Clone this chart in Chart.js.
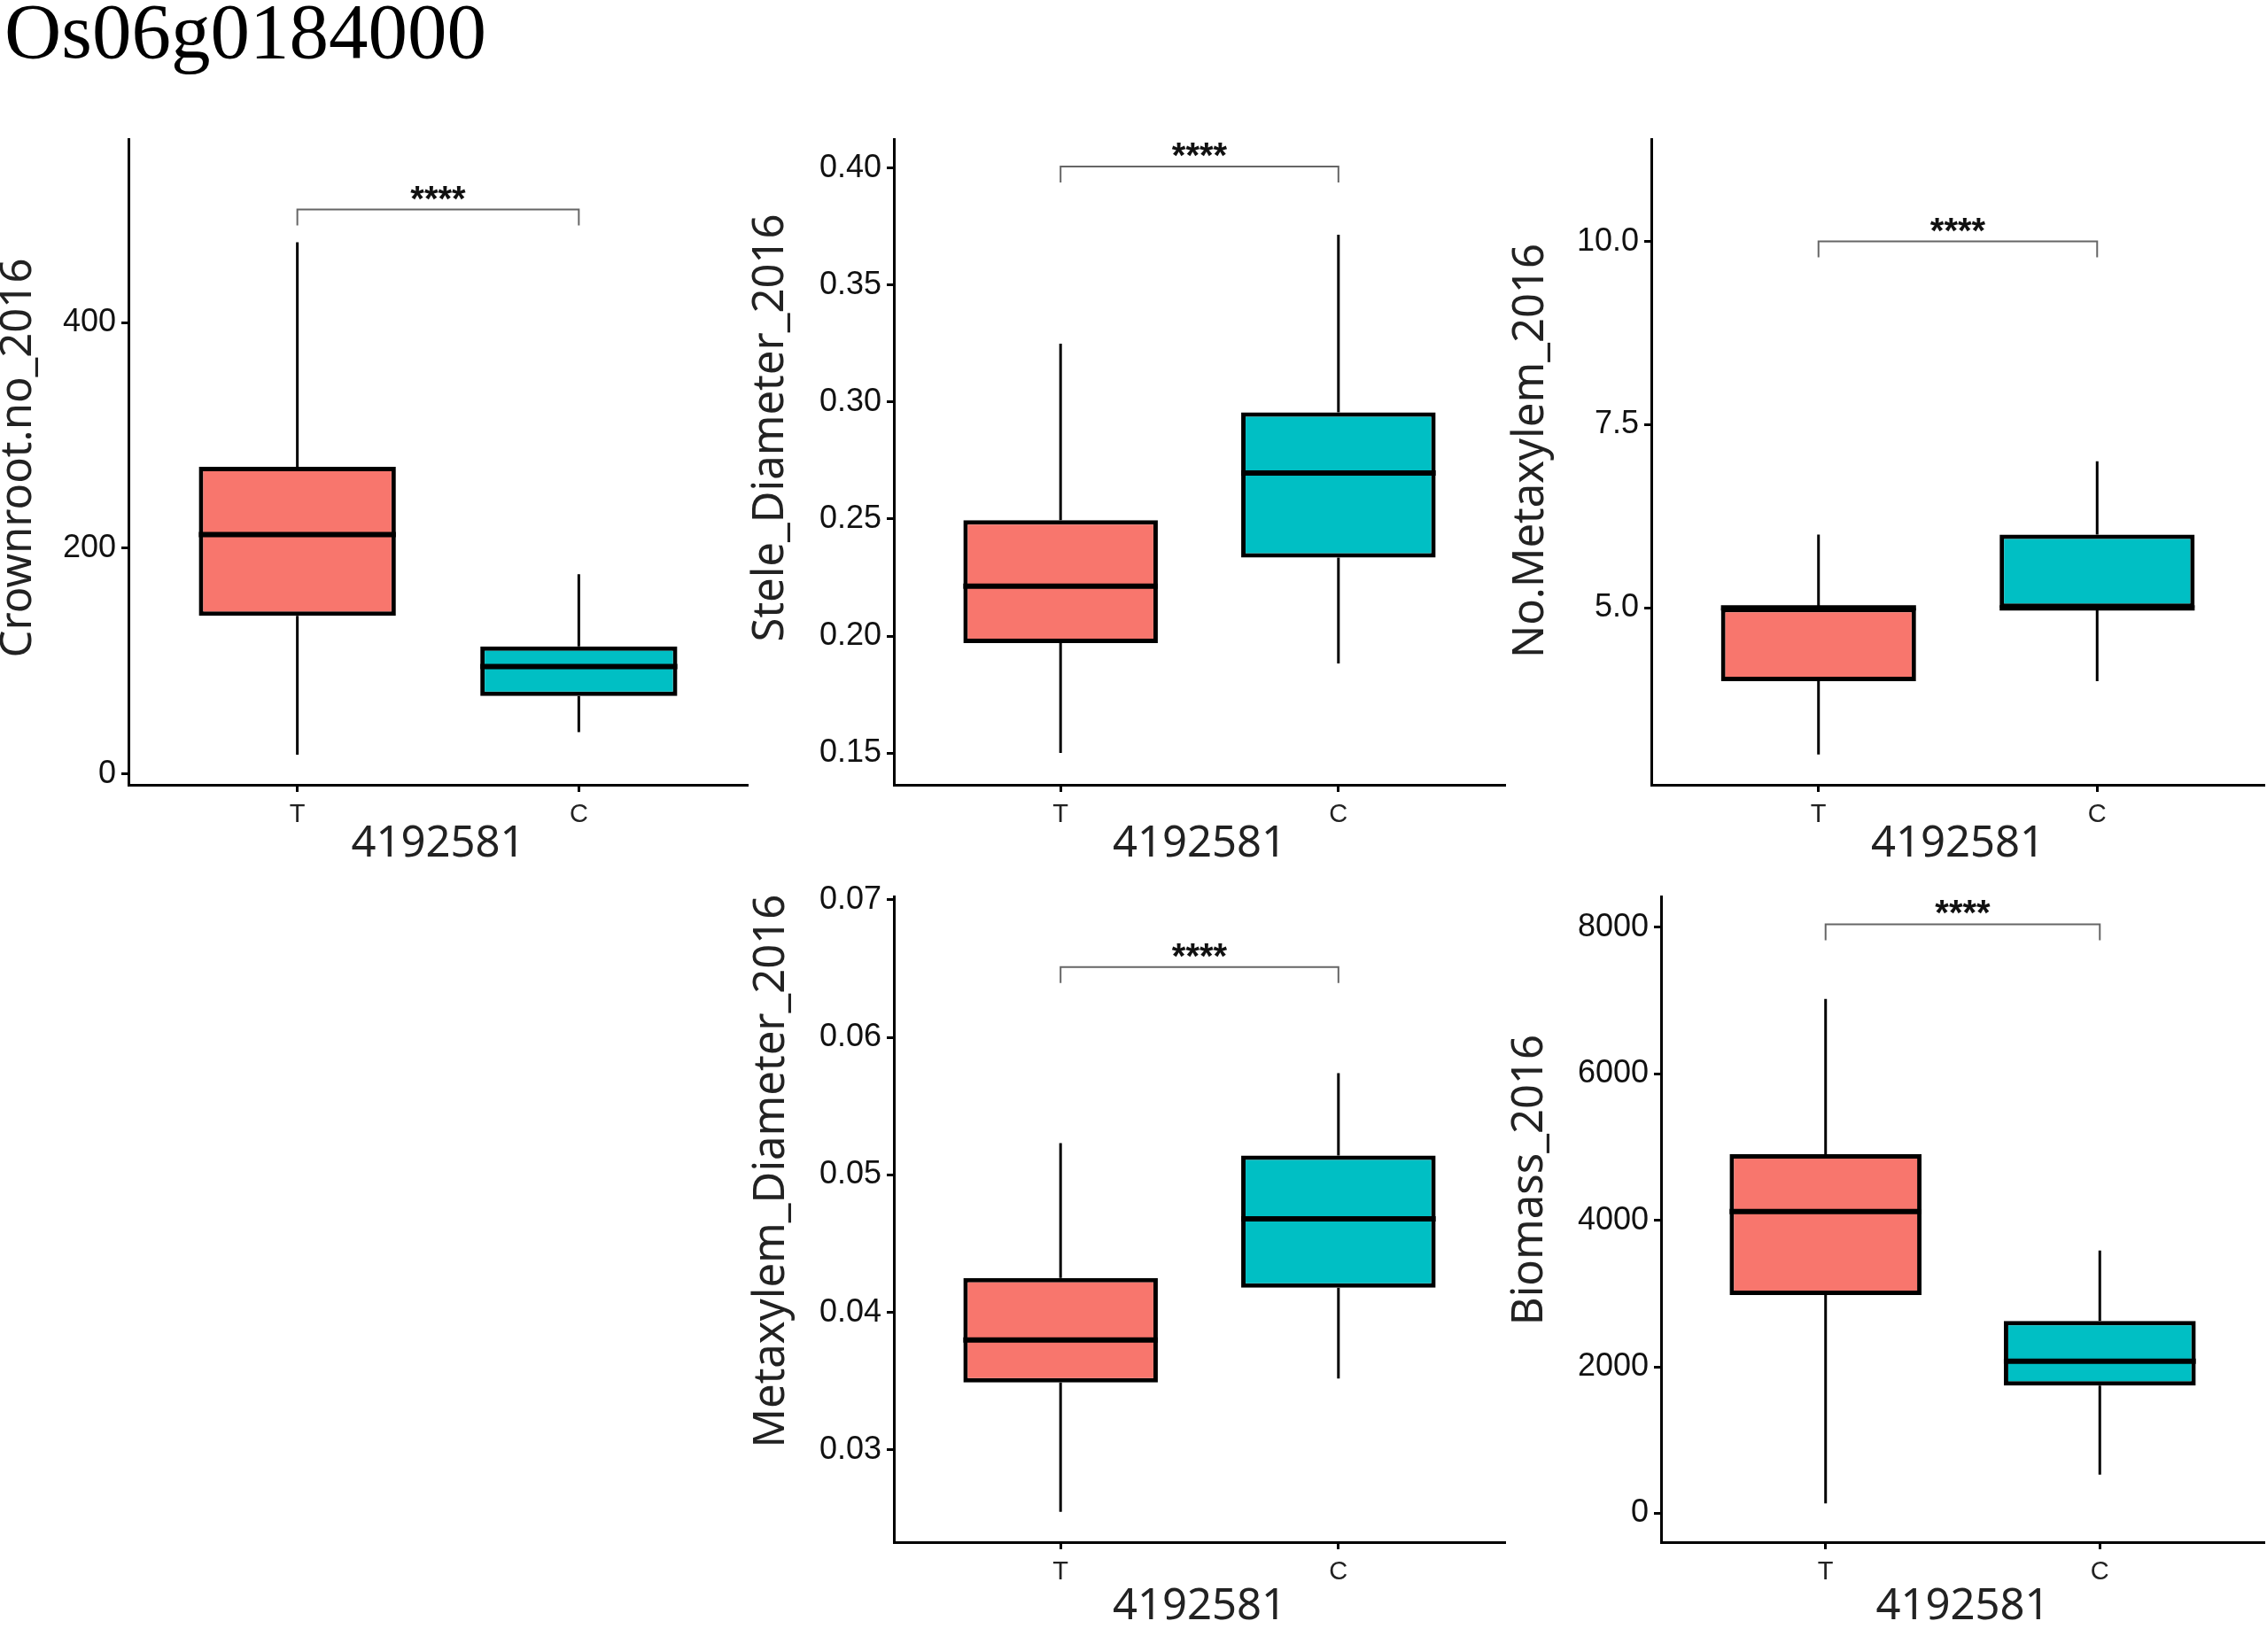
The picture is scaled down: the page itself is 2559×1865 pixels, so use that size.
<!DOCTYPE html>
<html>
<head>
<meta charset="utf-8">
<script src="https://cdn.jsdelivr.net/npm/chart.js@4.4.1/dist/chart.umd.min.js"></script>
<style>
  body { margin: 0; background: #fff; width: 2559px; height: 1865px; position: relative; overflow: hidden; }
  #title { position: absolute; left: 5px; top: -9px; font: 89px/1 "Liberation Serif", serif; color: #000; }
  .panel { position: absolute; }
</style>
</head>
<body>
<div id="title">Os06g0184000</div>
<div class="panel" style="left:-2px;top:130px;width:860px;height:848px"><canvas id="crown"></canvas></div>
<div class="panel" style="left:845px;top:130px;width:870px;height:848px"><canvas id="stele"></canvas></div>
<div class="panel" style="left:1700px;top:130px;width:859px;height:848px"><canvas id="nometa"></canvas></div>
<div class="panel" style="left:845px;top:985px;width:870px;height:854px"><canvas id="metadiam"></canvas></div>
<div class="panel" style="left:1700px;top:985px;width:859px;height:854px"><canvas id="biomass"></canvas></div>
<script>
  const groups = ['T', 'C'];
  const groupColors = ['#F8766D', '#00BFC4']; // ggplot default hues
  const xTitle = '4192581';
  const sigText = '****';

  // Crownroot.no_2016
  const crownLow = [17, 37];
  const crownQ1 = [140, 69];
  const crownMedian = [212, 95];
  const crownQ3 = [272, 113];
  const crownHigh = [471, 177];
  const crownSig = 500;
  const crownTicks = [0, 200, 400];
  const crownTickLabels = ['0', '200', '400'];

  // Stele_Diameter_2016
  const steleLow = [0.1500, 0.1883];
  const steleQ1 = [0.1970, 0.2335];
  const steleMedian = [0.2213, 0.2697];
  const steleQ3 = [0.2495, 0.2956];
  const steleHigh = [0.3250, 0.3715];
  const steleSig = 0.4007;
  const steleTicks = [0.15, 0.20, 0.25, 0.30, 0.35, 0.40];
  const steleTickLabels = ['0.15', '0.20', '0.25', '0.30', '0.35', '0.40'];

  // No.Metaxylem_2016
  const nometaLow = [3, 4];
  const nometaQ1 = [4, 5];
  const nometaMedian = [5, 5];
  const nometaQ3 = [5, 6];
  const nometaHigh = [6, 7];
  const nometaSig = 10.0;
  const nometaTicks = [5, 7.5, 10];
  const nometaTickLabels = ['5.0', '7.5', '10.0'];

  // Metaxylem_Diameter_2016
  const metadiamLow = [0.0255, 0.0352];
  const metadiamQ1 = [0.0349, 0.0418];
  const metadiamMedian = [0.0380, 0.0468];
  const metadiamQ3 = [0.0425, 0.0514];
  const metadiamHigh = [0.0523, 0.0574];
  const metadiamSig = 0.0651;
  const metadiamTicks = [0.03, 0.04, 0.05, 0.06, 0.07];
  const metadiamTickLabels = ['0.03', '0.04', '0.05', '0.06', '0.07'];

  // Biomass_2016
  const biomassLow = [137, 529];
  const biomassQ1 = [2980, 1745];
  const biomassMedian = [4118, 2078];
  const biomassQ3 = [4902, 2627];
  const biomassHigh = [7020, 3588];
  const biomassSig = 8039;
  const biomassTicks = [0, 2000, 4000, 6000, 8000];
  const biomassTickLabels = ['0', '2000', '4000', '6000', '8000'];

  // whiskers go under the boxes, medians, bracket and y title on top
  function boxDecor(p) {
    return {
      id: 'boxDecor',
      beforeDatasetsDraw(chart) {
        const {ctx, scales: {y}} = chart;
        const bars = chart.getDatasetMeta(0).data;
        ctx.save();
        ctx.strokeStyle = '#000';
        ctx.lineWidth = 3;
        bars.forEach((bar, i) => {
          ctx.beginPath();
          ctx.moveTo(bar.x, y.getPixelForValue(p.high[i]));
          ctx.lineTo(bar.x, y.getPixelForValue(p.q3[i]));
          ctx.moveTo(bar.x, y.getPixelForValue(p.q1[i]));
          ctx.lineTo(bar.x, y.getPixelForValue(p.low[i]));
          ctx.stroke();
        });
        ctx.restore();
      },
      afterDatasetsDraw(chart) {
        const {ctx, scales: {y}} = chart;
        const bars = chart.getDatasetMeta(0).data;
        ctx.save();
        ctx.strokeStyle = '#000';
        ctx.lineWidth = 6;
        bars.forEach((bar, i) => {
          const my = y.getPixelForValue(p.median[i]);
          ctx.beginPath();
          ctx.moveTo(bar.x - bar.width / 2, my);
          ctx.lineTo(bar.x + bar.width / 2, my);
          ctx.stroke();
        });

        const sy = y.getPixelForValue(p.sig);
        const tip = 18;
        ctx.strokeStyle = '#666';
        ctx.lineWidth = 2;
        ctx.beginPath();
        ctx.moveTo(bars[0].x, sy + tip);
        ctx.lineTo(bars[0].x, sy);
        ctx.lineTo(bars[1].x, sy);
        ctx.lineTo(bars[1].x, sy + tip);
        ctx.stroke();

        ctx.fillStyle = '#111';
        ctx.font = 'bold 40px "Liberation Sans"';
        ctx.textAlign = 'center';
        ctx.textBaseline = 'alphabetic';
        ctx.fillText(sigText, (bars[0].x + bars[1].x) / 2, sy + 1);

        // y axis title, placed as in the source figure
        ctx.fillStyle = '#222';
        ctx.font = '49px "Noto Sans"';
        ctx.textBaseline = 'middle';
        ctx.translate(p.titleX, p.titleY);
        ctx.rotate(-Math.PI / 2);
        ctx.fillText(p.title, 0, 0);
        ctx.restore();
      }
    };
  }

  const panels = [
    {id: 'crown', title: 'Crownroot.no_2016', low: crownLow, q1: crownQ1, median: crownMedian, q3: crownQ3, high: crownHigh,
     sig: crownSig, ticks: crownTicks, labels: crownTickLabels, min: -9.7, max: 562,
     yWidth: 147, xHeight: 92, padTop: 25, padRight: 14, titleX: 23, titleY: 387},
    {id: 'stele', title: 'Stele_Diameter_2016', low: steleLow, q1: steleQ1, median: steleMedian, q3: steleQ3, high: steleHigh,
     sig: steleSig, ticks: steleTicks, labels: steleTickLabels, min: 0.1364, max: 0.4122,
     yWidth: 164, xHeight: 92, padTop: 25, padRight: 16, titleX: 25, titleY: 353},
    {id: 'nometa', title: 'No.Metaxylem_2016', low: nometaLow, q1: nometaQ1, median: nometaMedian, q3: nometaQ3, high: nometaHigh,
     sig: nometaSig, ticks: nometaTicks, labels: nometaTickLabels, min: 2.585, max: 11.39,
     yWidth: 164, xHeight: 92, padTop: 25, padRight: 3, titleX: 28, titleY: 379},
    {id: 'metadiam', title: 'Metaxylem_Diameter_2016', low: metadiamLow, q1: metadiamQ1, median: metadiamMedian, q3: metadiamQ3, high: metadiamHigh,
     sig: metadiamSig, ticks: metadiamTicks, labels: metadiamTickLabels, min: 0.0233, max: 0.0702,
     yWidth: 164, xHeight: 98, padTop: 24, padRight: 16, titleX: 26, titleY: 337},
    {id: 'biomass', title: 'Biomass_2016', low: biomassLow, q1: biomassQ1, median: biomassMedian, q3: biomassQ3, high: biomassHigh,
     sig: biomassSig, ticks: biomassTicks, labels: biomassTickLabels, min: -392, max: 8412,
     yWidth: 175, xHeight: 98, padTop: 24, padRight: 3, titleX: 27, titleY: 347}
  ];

  panels.forEach(p => {
    const axisBits = {
      grid: {display: true, drawOnChartArea: false, offset: false, tickLength: 8, tickWidth: 3, tickColor: '#000'},
      border: {display: true, color: '#000', width: 3}
    };

    new Chart(document.getElementById(p.id), {
      type: 'bar',
      data: {
        datasets: [{
          data: groups.map((g, i) => ({x: i + 1, y: [p.q1[i], p.q3[i]]})),
          backgroundColor: groupColors,
          borderColor: '#000',
          borderWidth: 5,
          borderSkipped: false,
          barPercentage: 0.7,
          categoryPercentage: 1.0
        }]
      },
      options: {
        responsive: true,
        maintainAspectRatio: false,
        animation: false,
        layout: {padding: {top: p.padTop, right: p.padRight, bottom: 0, left: 0}},
        plugins: {legend: {display: false}, tooltip: {enabled: false}},
        scales: {
          x: {
            type: 'linear',
            min: 0.4,
            max: 2.6,
            offset: false,
            afterBuildTicks: s => { s.ticks = groups.map((g, i) => ({value: i + 1})); },
            afterFit: s => { s.height = p.xHeight; },
            ticks: {
              callback: (v, i) => groups[i],
              font: {family: 'Liberation Sans', size: 29},
              color: '#222',
              padding: 9,
              maxRotation: 0
            },
            title: {
              display: true,
              text: xTitle,
              font: {family: 'Noto Sans', size: 49, lineHeight: 1},
              color: '#222',
              padding: 0
            },
            ...axisBits
          },
          y: {
            type: 'linear',
            min: p.min,
            max: p.max,
            afterBuildTicks: s => { s.ticks = p.ticks.map(v => ({value: v})); },
            afterFit: s => { s.width = p.yWidth; },
            ticks: {
              callback: (v, i) => p.labels[i],
              font: {family: 'Liberation Sans', size: 36},
              color: '#111',
              padding: 6
            },
            title: {display: false},
            ...axisBits
          }
        }
      },
      plugins: [boxDecor(p)]
    });
  });
</script>
</body>
</html>
